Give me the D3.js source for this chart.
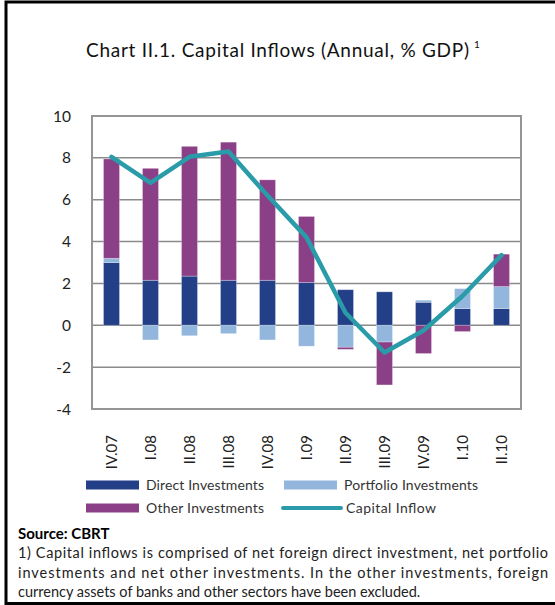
<!DOCTYPE html>
<html>
<head>
<meta charset="utf-8">
<script src="https://cdn.jsdelivr.net/npm/d3@7"></script>
<style>
  body { margin: 0; background: #fff; }
  svg { display: block; font-family: Lato, "Open Sans", sans-serif; }
</style>
</head>
<body>
<svg id="chart" width="555" height="605"></svg>
<script>
// data
var quarters  = ['IV.07','I.08','II.08','III.08','IV.08','I.09','II.09','III.09','IV.09','I.10','II.10'];
var direct    = [3.0, 2.15, 2.35, 2.15, 2.15, 2.05, 1.7, 1.6, 1.1, 0.8, 0.8];
var portfolio = [0.2, -0.7, -0.5, -0.4, -0.7, -1.0, -1.05, -0.8, 0.1, 0.95, 1.05];
var other     = [4.75, 5.35, 6.2, 6.6, 4.8, 3.15, -0.1, -2.05, -1.35, -0.3, 1.55];
var inflow    = [8.05, 6.8, 8.05, 8.3, 6.2, 4.2, 0.6, -1.3, -0.25, 1.4, 3.35];
var yTicks    = [-4, -2, 0, 2, 4, 6, 8, 10];

var colors = { direct: '#233f88', portfolio: '#93b6dd', other: '#8b3f87', inflow: '#2a9ba8' };

var svg = d3.select('#chart');

// frame (left, top, bottom only)
svg.append('path')
  .attr('d', 'M6,605 V2 H555 M6,603.5 H555')
  .attr('fill', 'none').attr('stroke', '#000').attr('stroke-width', 3);

svg.append('text')
  .attr('x', 86).attr('y', 57)
  .attr('font-size', 19)
  .attr('fill', '#111')
  .attr('textLength', 383).attr('lengthAdjust', 'spacing')
  .text('Chart II.1. Capital Inflows (Annual, % GDP)');
svg.append('text')
  .attr('x', 474).attr('y', 48)
  .attr('font-size', 10)
  .attr('fill', '#111')
  .text('1');

var margin = { left: 92, right: 521, top: 116, bottom: 409 };

var x = d3.scaleBand()
  .domain(quarters)
  .range([margin.left, margin.right])
  .paddingInner(0.59).paddingOuter(0.295);

var y = d3.scaleLinear()
  .domain([-4, 10])
  .range([margin.bottom, margin.top]);

// grid
svg.append('g').selectAll('line')
  .data(yTicks)
  .join('line')
  .attr('x1', margin.left).attr('x2', margin.right)
  .attr('y1', d => y(d)).attr('y2', d => y(d))
  .attr('stroke', '#8a8a8a').attr('stroke-width', 1.5);

// y labels
svg.append('g').selectAll('text')
  .data(yTicks)
  .join('text')
  .attr('x', 71).attr('y', d => y(d) + 5.5)
  .attr('text-anchor', 'end')
  .attr('font-size', 15.5)
  .attr('fill', '#222')
  .text(d => d < 0 ? '-' + Math.abs(d) : d);

// stacked bars: positives stack up from 0, negatives stack down
var series = [['direct', direct], ['portfolio', portfolio], ['other', other]];
var rows = [];
quarters.forEach(function(q, i) {
  var up = 0, down = 0;
  series.forEach(function(s) {
    var v = s[1][i];
    if (v >= 0) { rows.push({ q: q, key: s[0], y0: up, y1: up + v }); up += v; }
    else { rows.push({ q: q, key: s[0], y0: down + v, y1: down }); down += v; }
  });
});

svg.append('g').selectAll('rect')
  .data(rows)
  .join('rect')
  .attr('x', d => x(d.q))
  .attr('width', x.bandwidth())
  .attr('y', d => y(d.y1))
  .attr('height', d => y(d.y0) - y(d.y1))
  .attr('fill', d => colors[d.key])
  .attr('stroke', 'rgba(255,255,255,0.35)').attr('stroke-width', 0.8);

// plot frame
svg.append('rect')
  .attr('x', margin.left).attr('y', margin.top)
  .attr('width', margin.right - margin.left).attr('height', margin.bottom - margin.top)
  .attr('fill', 'none').attr('stroke', '#959595').attr('stroke-width', 2);

// capital inflow line
var line = d3.line()
  .x((d, i) => x(quarters[i]) + x.bandwidth() / 2)
  .y(d => y(d));

svg.append('path')
  .datum(inflow)
  .attr('d', line)
  .attr('fill', 'none')
  .attr('stroke', colors.inflow)
  .attr('stroke-width', 4.5)
  .attr('stroke-linejoin', 'round')
  .attr('stroke-linecap', 'round');

// x labels, rotated
svg.append('g').selectAll('text')
  .data(quarters)
  .join('text')
  .attr('transform', d => 'translate(' + (x(d) + x.bandwidth() / 2 + 5.5) + ',435) rotate(-90)')
  .attr('text-anchor', 'end')
  .attr('font-size', 15)
  .attr('fill', '#222')
  .text(d => d);

// legend
var legend = svg.append('g').attr('font-size', 14).attr('fill', '#333');
var legendItems = [
  { label: 'Direct Investments', key: 'direct', lx: 86, ly: 485, type: 'bar', w: 118 },
  { label: 'Portfolio Investments', key: 'portfolio', lx: 284, ly: 485, type: 'bar', w: 134 },
  { label: 'Other Investments', key: 'other', lx: 86, ly: 508, type: 'bar', w: 118 },
  { label: 'Capital Inflow', key: 'inflow', lx: 283, ly: 508, type: 'line', w: 90 }
];
legendItems.forEach(function(d) {
  if (d.type === 'bar') {
    legend.append('rect').attr('x', d.lx).attr('y', d.ly - 4.5)
      .attr('width', 53).attr('height', 9).attr('fill', colors[d.key]);
  } else {
    legend.append('line').attr('x1', d.lx).attr('x2', d.lx + 58)
      .attr('y1', d.ly).attr('y2', d.ly)
      .attr('stroke', colors[d.key]).attr('stroke-width', 4).attr('stroke-linecap', 'round');
  }
  legend.append('text').attr('x', d.type === 'bar' ? d.lx + 60 : d.lx + 63).attr('y', d.ly + 5)
    .attr('textLength', d.w).attr('lengthAdjust', 'spacing').text(d.label);
});

// source & footnote
svg.append('text')
  .attr('x', 18).attr('y', 539)
  .attr('font-size', 15).attr('font-weight', 'bold').attr('fill', '#000')
  .text('Source: CBRT');

var notes = [
  '1) Capital inflows is comprised of net foreign direct investment, net portfolio',
  'investments and net other investments. In the other investments, foreign',
  'currency assets of banks and other sectors have been excluded.'
];
svg.append('g').selectAll('text')
  .data(notes)
  .join('text')
  .attr('x', 18)
  .attr('y', (d, i) => 558 + i * 19.5)
  .attr('font-size', 14.5)
  .attr('fill', '#222')
  .attr('textLength', (d, i) => i < 2 ? 530 : null)
  .attr('lengthAdjust', 'spacing')
  .text(d => d);
</script>
</body>
</html>
